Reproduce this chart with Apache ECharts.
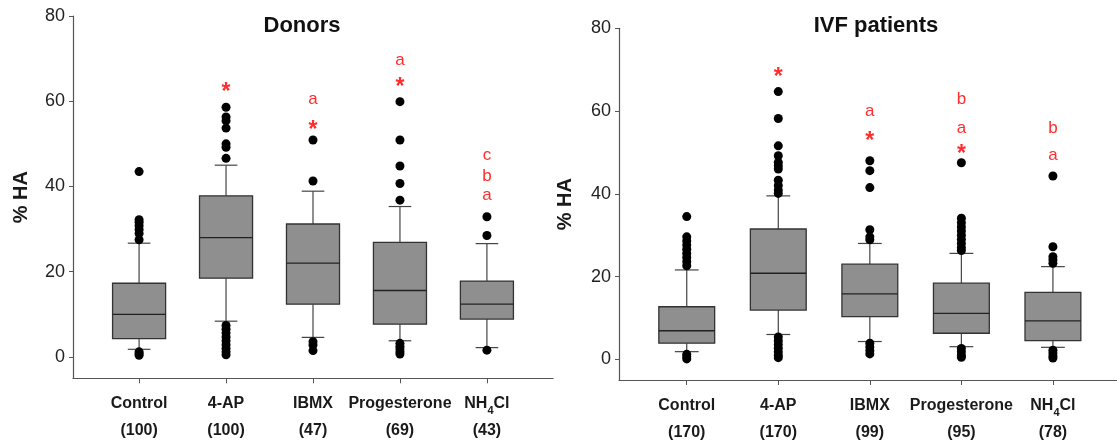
<!DOCTYPE html>
<html>
<head>
<meta charset="utf-8">
<script src="https://cdn.jsdelivr.net/npm/echarts@6/dist/echarts.min.js"></script>
<style>
html,body{margin:0;padding:0;background:#fff}
#chart{width:1117px;height:443px}
</style>
</head>
<body>
<div id="chart"></div>
<script>
var categories = ['Control', '4-AP', 'IBMX', 'Progesterone', 'NH4Cl'];
var donorCounts = ['(100)', '(100)', '(47)', '(69)', '(43)'];
var ivfCounts = ['(170)', '(170)', '(99)', '(95)', '(78)'];
var yTicks = [0, 20, 40, 60, 80];

// [lower whisker, Q1, median, Q3, upper whisker]
var donorBoxes = [
	[1.8, 4.3, 10.0, 17.3, 26.7],
	[8.4, 18.5, 28.0, 37.8, 45.0],
	[4.6, 12.4, 22.0, 31.2, 38.9],
	[3.8, 7.7, 15.6, 26.9, 35.3],
	[2.2, 8.9, 12.4, 17.8, 26.6]
];
var ivfBoxes = [
	[1.85, 3.9, 6.9, 12.7, 21.6],
	[6.0, 11.9, 20.8, 31.5, 39.5],
	[4.3, 10.3, 15.8, 23.0, 28.0],
	[3.05, 6.3, 11.1, 18.4, 25.6],
	[2.9, 4.5, 9.3, 16.2, 22.4]
];

var donorOutliers = [
	[43.5, 32.2, 31.6, 30.8, 29.9, 29.0, 27.5, 1.2, 0.8, 0.4],
	[58.6, 56.3, 55.4, 53.7, 50.0, 49.2, 46.6, 7.4, 6.5, 5.6, 4.7, 3.8, 2.9, 2.0, 1.2, 0.5],
	[50.9, 41.3, 3.6, 2.8, 1.5],
	[59.9, 50.9, 44.8, 40.7, 36.8, 3.2, 2.5, 1.9, 1.2, 0.7],
	[32.9, 28.5, 1.6]
];
var ivfOutliers = [
	[34.5, 29.6, 28.6, 27.6, 26.6, 25.6, 24.6, 23.6, 22.6, 1.2, 0.6, 0.1],
	[64.7, 58.2, 51.6, 49.2, 47.6, 46.8, 46.0, 43.3, 42.0, 40.9, 40.1, 5.4, 4.5, 3.6, 2.7, 1.8, 1.0, 0.4],
	[48.0, 45.6, 41.5, 31.3, 29.6, 28.9, 3.9, 3.0, 2.1, 1.3],
	[47.5, 34.1, 33.0, 32.0, 31.0, 30.0, 29.0, 28.0, 27.0, 26.3, 2.6, 1.8, 1.0, 0.5],
	[44.3, 27.2, 24.8, 24.0, 23.2, 2.2, 1.5, 0.8, 0.3]
];

// significance marks: [category index, value, text]
var donorMarks = [
	[1, 63.2, '*'], [2, 54.2, '*'], [2, 60.3, 'a'], [3, 64.4, '*'], [3, 69.3, 'a'],
	[4, 37.6, 'a'], [4, 42.1, 'b'], [4, 47.0, 'c']
];
var ivfMarks = [
	[1, 69.3, '*'], [2, 53.8, '*'], [2, 59.8, 'a'], [3, 50.6, '*'], [3, 55.7, 'a'], [3, 62.5, 'b'],
	[4, 49.0, 'a'], [4, 55.7, 'b']
];

var FONT = 'Liberation Sans, Arial, sans-serif';
var RED = '#ff2d2d';

function boxData(boxes) {
	return boxes.map(function(b, i) { return [i].concat(b); });
}
function outlierData(list) {
	var res = [];
	list.forEach(function(vals, i) {
		vals.forEach(function(v) { res.push([i, v]); });
	});
	return res;
}

function renderBox(params, api) {
	var x = api.value(0);
	var lo = api.coord([x, api.value(1)]);
	var q1 = api.coord([x, api.value(2)]);
	var md = api.coord([x, api.value(3)]);
	var q3 = api.coord([x, api.value(4)]);
	var hi = api.coord([x, api.value(5)]);
	var half = api.size([0.61, 0])[0] / 2;
	var cap = api.size([0.26, 0])[0] / 2;
	var cx = md[0];
	var ln = {stroke: '#444', lineWidth: 1.2};
	return {
		type: 'group',
		children: [
			{type: 'line', shape: {x1: cx, y1: lo[1], x2: cx, y2: q1[1]}, style: ln},
			{type: 'line', shape: {x1: cx, y1: hi[1], x2: cx, y2: q3[1]}, style: ln},
			{type: 'line', shape: {x1: cx - cap, y1: lo[1], x2: cx + cap, y2: lo[1]}, style: ln},
			{type: 'line', shape: {x1: cx - cap, y1: hi[1], x2: cx + cap, y2: hi[1]}, style: ln},
			{type: 'rect', shape: {x: cx - half, y: q3[1], width: half * 2, height: q1[1] - q3[1]},
				style: {fill: '#8f8f8f', stroke: '#333', lineWidth: 1.3}},
			{type: 'line', shape: {x1: cx - half, y1: md[1], x2: cx + half, y2: md[1]},
				style: {stroke: '#222', lineWidth: 1.3}}
		]
	};
}

function makeXAxis(idx, min, max, counts) {
	return {
		type: 'value', gridIndex: idx, min: min, max: max,
		splitLine: {show: false},
		axisLine: {show: true, onZero: false, lineStyle: {color: '#555', width: 1.2}},
		axisTick: {show: true, customValues: [0, 1, 2, 3, 4], length: 5, lineStyle: {color: '#555'}},
		axisLabel: {
			customValues: [0, 1, 2, 3, 4],
			margin: 12,
			formatter: function(v) {
				var i = Math.round(v);
				if (categories[i] === 'NH4Cl') {
					return '{b|NH}{sub|4}{b|Cl}\n{b|' + counts[i] + '}';
				}
				return '{b|' + categories[i] + '}\n{b|' + counts[i] + '}';
			},
			rich: {
				b: {fontFamily: FONT, fontWeight: 'bold', fontSize: 16, color: '#1a1a1a', lineHeight: 27},
				sub: {fontFamily: FONT, fontWeight: 'bold', fontSize: 11, color: '#1a1a1a', lineHeight: 27, padding: [15, 0, 0, 0]}
			}
		}
	};
}

function makeYAxis(idx, gap) {
	return {
		type: 'value', gridIndex: idx, min: -5, max: 80,
		name: '% HA', nameLocation: 'middle', nameGap: gap, nameRotate: 90,
		nameTextStyle: {fontFamily: FONT, fontWeight: 'bold', fontSize: 20, color: '#1a1a1a'},
		splitLine: {show: false},
		axisLine: {show: true, onZero: false, lineStyle: {color: '#555', width: 1.2}},
		axisTick: {show: true, customValues: yTicks, length: 4, lineStyle: {color: '#555'}},
		axisLabel: {customValues: yTicks, margin: 8, fontFamily: FONT, fontSize: 18, color: '#222'}
	};
}

function markSeries(idx, marks) {
	return {
		type: 'scatter', xAxisIndex: idx, yAxisIndex: idx,
		symbolSize: 1, itemStyle: {color: 'rgba(0,0,0,0)', opacity: 1},
		data: marks.map(function(m) {
			var star = m[2] === '*';
			return {
				value: [m[0], m[1]], name: m[2],
				label: star ? {fontSize: 23, fontWeight: 'bold', offset: [0, 5]} : {fontSize: 17, offset: [0, -1]}
			};
		}),
		label: {
			show: true, position: 'inside',
			formatter: function(p) { return p.name; },
			color: RED, opacity: 1, fontFamily: FONT
		},
		z: 5
	};
}

var chart = echarts.init(document.getElementById('chart'));
var option = {
	animation: false,
	title: [
		{text: 'Donors', left: 297, top: 10, textAlign: 'center',
			textStyle: {fontFamily: FONT, fontWeight: 'bold', fontSize: 22, color: '#111'}},
		{text: 'IVF patients', left: 871, top: 10, textAlign: 'center',
			textStyle: {fontFamily: FONT, fontWeight: 'bold', fontSize: 22, color: '#111'}}
	],
	grid: [
		{left: 73, right: 564, top: 16, bottom: 64.7},
		{left: 619, right: 0, top: 28.3, bottom: 63}
	],
	xAxis: [
		makeXAxis(0, -0.76, 4.76, donorCounts),
		makeXAxis(1, -0.74, 4.7, ivfCounts)
	],
	yAxis: [makeYAxis(0, 42), makeYAxis(1, 44)],
	series: [
		{type: 'custom', xAxisIndex: 0, yAxisIndex: 0, renderItem: renderBox, data: boxData(donorBoxes), z: 2},
		{type: 'custom', xAxisIndex: 1, yAxisIndex: 1, renderItem: renderBox, data: boxData(ivfBoxes), z: 2},
		{type: 'scatter', xAxisIndex: 0, yAxisIndex: 0, symbolSize: 9, itemStyle: {color: '#000', opacity: 1},
			data: outlierData(donorOutliers), z: 3},
		{type: 'scatter', xAxisIndex: 1, yAxisIndex: 1, symbolSize: 9, itemStyle: {color: '#000', opacity: 1},
			data: outlierData(ivfOutliers), z: 3},
		markSeries(0, donorMarks),
		markSeries(1, ivfMarks)
	]
};
chart.setOption(option);
</script>
</body>
</html>
